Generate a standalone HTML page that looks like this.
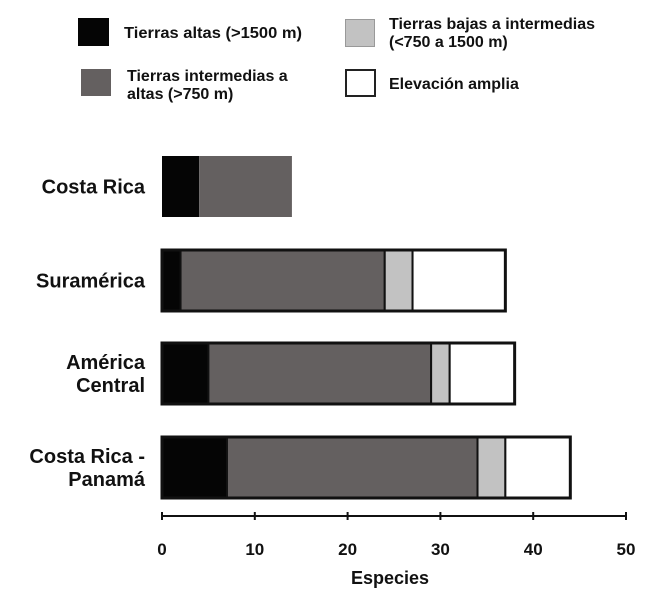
<!DOCTYPE html>
<html><head><meta charset="utf-8"><style>
body{margin:0;background:#fff;}
svg{display:block;font-family:"Liberation Sans",sans-serif;}
</style></head><body>
<svg width="650" height="601" viewBox="0 0 650 601">
<g font-size="16" font-weight="bold" fill="#111">
 <g>
  <rect x="78" y="18" width="31" height="28" fill="#050505"/>
  <text x="124" y="38" textLength="178" lengthAdjust="spacingAndGlyphs">Tierras altas (&gt;1500 m)</text></g>
 <g>
  <rect x="81" y="69" width="30" height="27" fill="#646060"/>
  <text x="127" y="81">Tierras intermedias a</text><text x="127" y="99">altas (&gt;750 m)</text></g>
 <g>
  <rect x="345.5" y="19.5" width="29" height="27" fill="#c2c2c2" stroke="#999" stroke-width="1"/>
  <text x="389" y="29">Tierras bajas a intermedias</text><text x="389" y="47">(&lt;750 a 1500 m)</text></g>
 <g>
  <rect x="346" y="70" width="29" height="26" fill="#fff" stroke="#222" stroke-width="2"/>
  <text x="389" y="89">Elevación amplia</text></g>
</g>
<g id="bars"></g>
<g id="axis"></g>
<text x="390" y="584" text-anchor="middle" font-size="18" font-weight="bold" fill="#111">Especies</text>
<g id="cats" font-size="20" font-weight="bold" fill="#111" text-anchor="end"></g>
</svg>
<script>
const categories=[["Costa Rica"],["Suramérica"],["América","Central"],["Costa Rica -","Panamá"]];
const highlands=[4,2,5,7];
const midHigh=[10,22,24,27];
const lowMid=[0,3,2,3];
const wide=[0,10,7,7];
const ticks=[0,10,20,30,40,50];
const NS="http://www.w3.org/2000/svg";
const x=v=>162+v*9.28;
const barTop=[156,250,343,437], barH=61;
const bars=document.getElementById('bars');
const series=[[highlands,"#050505","highlands"],[midHigh,"#646060","mid-high"],[lowMid,"#c2c2c2","low-mid"],[wide,"#ffffff","wide"]];
categories.forEach((c,i)=>{
 let acc=0;
 series.forEach(([arr,col,nm])=>{
  const v=arr[i]; if(v<=0) return;
  const r=document.createElementNS(NS,'rect');
  r.setAttribute('x',x(acc));r.setAttribute('y',barTop[i]);
  r.setAttribute('width',x(acc+v)-x(acc));r.setAttribute('height',barH);
  r.setAttribute('fill',col);
  if(i>0){r.setAttribute('stroke','#111');r.setAttribute('stroke-width','2');}
  
  
  bars.appendChild(r); acc+=v;
 });
 if(i>0){
  const o=document.createElementNS(NS,'rect');
  o.setAttribute('x',x(0));o.setAttribute('y',barTop[i]);
  o.setAttribute('width',x(acc)-x(0));o.setAttribute('height',barH);
  o.setAttribute('fill','none');o.setAttribute('stroke','#111');o.setAttribute('stroke-width','3');
  
  
  bars.appendChild(o);
 }
 const t=document.createElementNS(NS,'text');
 
 
 const cy=barTop[i]+barH/2, n=c.length;
 c.forEach((s,k)=>{const ts=document.createElementNS(NS,'tspan');ts.setAttribute('x',145);ts.setAttribute('y',cy+7+(k-(n-1)/2)*23);ts.textContent=s;t.appendChild(ts);});
 document.getElementById('cats').appendChild(t);
});
const ax=document.getElementById('axis');
const l=document.createElementNS(NS,'line');
l.setAttribute('x1',x(0));l.setAttribute('x2',x(50));l.setAttribute('y1',516);l.setAttribute('y2',516);
l.setAttribute('stroke','#111');l.setAttribute('stroke-width','2');


ax.appendChild(l);
ticks.forEach(v=>{
 const tk=document.createElementNS(NS,'line');
 tk.setAttribute('x1',x(v));tk.setAttribute('x2',x(v));tk.setAttribute('y1',512);tk.setAttribute('y2',520);
 tk.setAttribute('stroke','#111');tk.setAttribute('stroke-width','2');
 
 
 ax.appendChild(tk);
 const tl=document.createElementNS(NS,'text');
 tl.setAttribute('x',x(v));tl.setAttribute('y',555);tl.setAttribute('text-anchor','middle');
 tl.setAttribute('font-size','17');tl.setAttribute('font-weight','bold');tl.setAttribute('fill','#111');
 
 
 tl.textContent=v; ax.appendChild(tl);
});
</script>
</body></html>
